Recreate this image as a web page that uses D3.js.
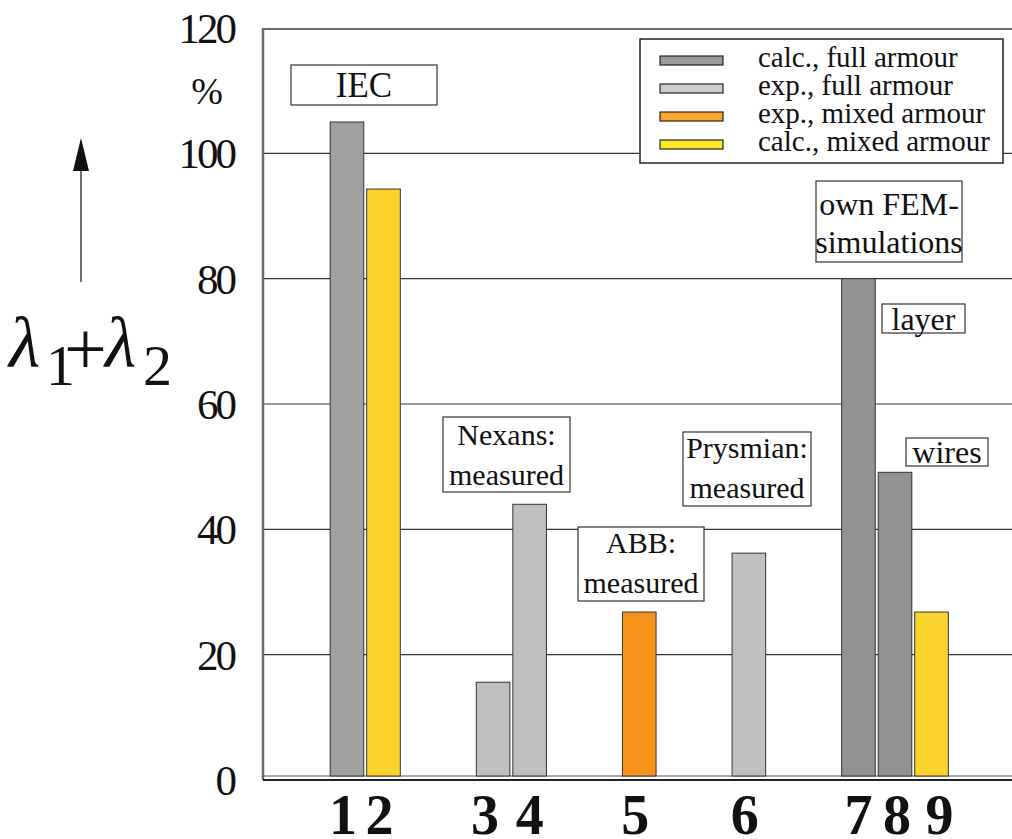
<!DOCTYPE html>
<html>
<head>
<meta charset="utf-8">
<script src="https://cdn.jsdelivr.net/npm/d3@7"></script>
<style>
  body { margin: 0; background: #fff; }
  svg text { font-family: "Liberation Serif", "DejaVu Serif", serif; fill: #111; }
</style>
</head>
<body>
<svg id="chart" width="1012" height="839"></svg>
<script>
// bar data, left to right
var barLabels = ["1", "2", "3", "4", "5", "6", "7", "8", "9"];
var barValues = [105, 94.3, 15.6, 44, 26.8, 36.2, 80, 49.1, 26.8];
var barSeries = ["calcFull", "calcMixed", "expFull", "expFull", "expMixed", "expFull", "calcFull", "calcFull", "calcMixed"];
var barSource = ["IEC", "IEC", "Nexans", "Nexans", "ABB", "Prysmian", "FEM", "FEM", "FEM"];

var seriesKeys = ["calcFull", "expFull", "expMixed", "calcMixed"];
var seriesNames = ["calc., full armour", "exp., full armour", "exp., mixed armour", "calc., mixed armour"];

var yTicks = [0, 20, 40, 60, 80, 100, 120];

// boxed notes: text lines
var notes = [
    { key: "IEC", lines: ["IEC"] },
    { key: "Nexans", lines: ["Nexans:", "measured"] },
    { key: "ABB", lines: ["ABB:", "measured"] },
    { key: "Prysmian", lines: ["Prysmian:", "measured"] },
    { key: "FEM", lines: ["own FEM-", "simulations"] },
    { key: "layer", lines: ["layer"] },
    { key: "wires", lines: ["wires"] }
];

// ---- layout / style ----
var barSlot = [0, 1, 4, 5, 8, 11, 14, 15, 16];   // gaps between the groups
var labelDx = [-4, -4, -8, 0, -4, -4, 0, 2, 8];

var barFill = { calcFull: "#a0a0a0", expFull: "#c0c0c0", expMixed: "#f7931a", calcMixed: "#fcd22c" };
var femFill = "#929292";
var legendFill = { calcFull: "#999999", expFull: "#cdcdcd", expMixed: "#fca62f", calcMixed: "#fde826" };

// box, font size, first baseline offset, line step
var noteBox = {
    IEC:      { x: 291, y: 65,  w: 146, h: 40, fs: 35, b0: 32, step: 0 },
    Nexans:   { x: 443, y: 417, w: 127, h: 75, fs: 30, b0: 28, step: 40 },
    ABB:      { x: 578, y: 527, w: 126, h: 74, fs: 30, b0: 26, step: 40 },
    Prysmian: { x: 683, y: 432, w: 128, h: 74, fs: 30, b0: 26, step: 40 },
    FEM:      { x: 816, y: 181, w: 146, h: 81, fs: 32, b0: 34, step: 38 },
    layer:    { x: 882, y: 304, w: 83,  h: 29, fs: 32, b0: 26, step: 0 },
    wires:    { x: 906, y: 438, w: 82,  h: 28, fs: 32, b0: 25, step: 0 }
};

var svg = d3.select("#chart");

var plotLeft = 263, plotRight = 1012, plotTop = 28, zeroY = 780;

var y = d3.scaleLinear().domain([0, 120]).range([zeroY, plotTop]);
var x = d3.scaleBand()
    .domain(d3.range(17))
    .range([328.7, 949.8])
    .paddingInner(0.08)
    .paddingOuter(0.04);

// grid lines
svg.append("g")
    .selectAll("line")
    .data(yTicks.filter(function(d) { return d > 0 && d < 120; }))
    .enter().append("line")
    .attr("x1", plotLeft).attr("x2", plotRight)
    .attr("y1", function(d) { return y(d); })
    .attr("y2", function(d) { return y(d); })
    .style("stroke", "#333")
    .style("stroke-width", 1.2);

// frame
svg.append("line").attr("x1", plotLeft).attr("x2", plotRight).attr("y1", plotTop + 1).attr("y2", plotTop + 1)
    .style("stroke", "#6a6a6a").style("stroke-width", 2);
svg.append("line").attr("x1", plotLeft).attr("x2", plotLeft).attr("y1", plotTop).attr("y2", zeroY)
    .style("stroke", "#6a6a6a").style("stroke-width", 2.5);
svg.append("line").attr("x1", plotLeft).attr("x2", plotRight).attr("y1", zeroY - 4).attr("y2", zeroY - 4)
    .style("stroke", "#555").style("stroke-width", 1.2);
svg.append("line").attr("x1", plotLeft).attr("x2", plotRight).attr("y1", zeroY).attr("y2", zeroY)
    .style("stroke", "#222").style("stroke-width", 2);

// y axis labels
var yAxis = d3.axisLeft(y).tickValues(yTicks).tickSize(0).tickPadding(0);
var yg = svg.append("g").attr("transform", "translate(234,0)").call(yAxis);
yg.select(".domain").remove();
yg.selectAll("text")
    .style("font-family", "'Liberation Serif', serif")
    .style("font-size", "43px")
    .style("letter-spacing", "-3px")
    .attr("fill", "#111")
    .attr("dy", "0.34em");

svg.append("text").attr("x", 207).attr("y", 104).attr("text-anchor", "middle")
    .style("font-size", "38px").text("%");

// bars
var bars = barValues.map(function(v, i) {
    return { label: barLabels[i], value: v, series: barSeries[i], source: barSource[i], slot: barSlot[i], dx: labelDx[i] };
});

svg.append("g")
    .selectAll("rect")
    .data(bars)
    .enter().append("rect")
    .attr("x", function(d) { return x(d.slot); })
    .attr("width", x.bandwidth())
    .attr("y", function(d) { return y(d.value); })
    .attr("height", function(d) { return zeroY - 4 - y(d.value); })
    .style("fill", function(d) {
        if (d.source === "FEM" && d.series === "calcFull") return femFill;
        return barFill[d.series];
    })
    .style("stroke", "#333")
    .style("stroke-width", 1);

// bar numbers
svg.append("g")
    .selectAll("text")
    .data(bars)
    .enter().append("text")
    .attr("x", function(d) { return x(d.slot) + x.bandwidth() / 2 + d.dx; })
    .attr("y", 834)
    .attr("text-anchor", "middle")
    .style("font-size", "56px")
    .style("font-weight", "bold")
    .text(function(d) { return d.label; });

// notes
var ng = svg.append("g")
    .selectAll("g")
    .data(notes)
    .enter().append("g");

ng.append("rect")
    .attr("x", function(d) { return noteBox[d.key].x; })
    .attr("y", function(d) { return noteBox[d.key].y; })
    .attr("width", function(d) { return noteBox[d.key].w; })
    .attr("height", function(d) { return noteBox[d.key].h; })
    .style("fill", "#fff")
    .style("stroke", "#333")
    .style("stroke-width", 1.2);

ng.each(function(d) {
    var b = noteBox[d.key];
    var g = d3.select(this);
    d.lines.forEach(function(line, k) {
        g.append("text")
            .attr("x", b.x + b.w / 2)
            .attr("y", b.y + b.b0 + k * b.step)
            .attr("text-anchor", "middle")
            .style("font-size", b.fs + "px")
            .text(line);
    });
});

// legend
var lg = svg.append("g");
lg.append("rect").attr("x", 640).attr("y", 39).attr("width", 363).attr("height", 124)
    .style("fill", "#fff").style("stroke", "#222").style("stroke-width", 1.5);

var rows = lg.selectAll("g.row")
    .data(seriesKeys)
    .enter().append("g")
    .attr("class", "row")
    .attr("transform", function(d, i) { return "translate(0," + (i * 28) + ")"; });

rows.append("rect")
    .attr("x", 660).attr("y", 56).attr("width", 63).attr("height", 9)
    .style("fill", function(d) { return legendFill[d]; })
    .style("stroke", "#222").style("stroke-width", 1.2);

rows.append("text")
    .attr("x", 758).attr("y", 67)
    .style("font-size", "29px")
    .text(function(d, i) { return seriesNames[i]; });

// axis title: lambda_1 + lambda_2 with arrow
svg.append("line").attr("x1", 81).attr("x2", 81).attr("y1", 282).attr("y2", 165)
    .style("stroke", "#111").style("stroke-width", 1.2);
svg.append("path").attr("d", "M81,138 L73,171 L89,171 Z").style("fill", "#111");

var glyphs = [
    { t: "λ", x: 9,   y: 367, fs: 72, it: true },
    { t: "1", x: 46,  y: 385, fs: 58, it: false },
    { t: "+", x: 64,  y: 374, fs: 76, it: false },
    { t: "λ", x: 105, y: 367, fs: 72, it: true },
    { t: "2", x: 143, y: 385, fs: 58, it: false }
];
svg.append("g").selectAll("text")
    .data(glyphs)
    .enter().append("text")
    .attr("x", function(d) { return d.x; })
    .attr("y", function(d) { return d.y; })
    .style("font-size", function(d) { return d.fs + "px"; })
    .style("font-style", function(d) { return d.it ? "italic" : "normal"; })
    .text(function(d) { return d.t; });
</script>
</body>
</html>
